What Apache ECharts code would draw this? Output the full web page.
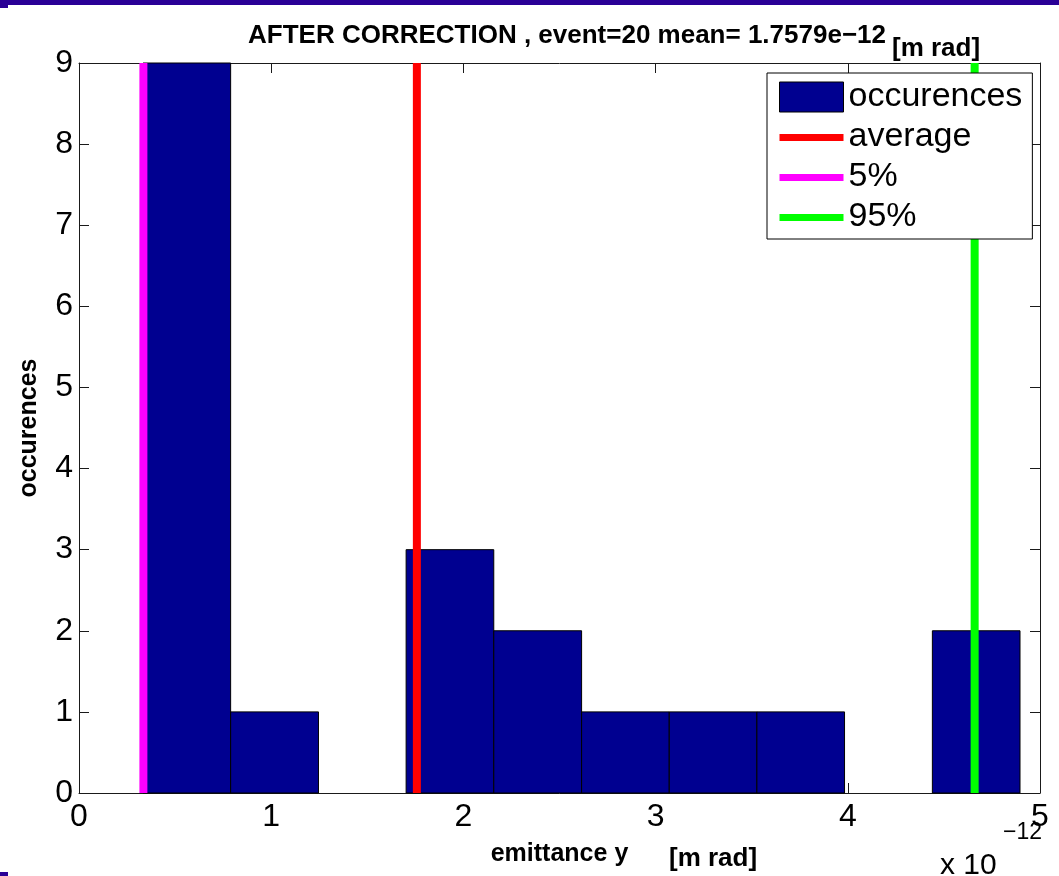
<!DOCTYPE html>
<html>
<head>
<meta charset="utf-8">
<script src="https://cdn.jsdelivr.net/npm/echarts@6/dist/echarts.min.js"></script>
<style>
html,body{margin:0;padding:0;background:#fff;}
#chart{width:1059px;height:876px;}
</style>
</head>
<body>
<div id="chart"></div>
<script>
// ---- data ----
var binEdges = [0.333, 0.789, 1.246, 1.702, 2.158, 2.615, 3.071, 3.527, 3.983, 4.440, 4.896];
var counts = [9, 1, 0, 3, 2, 1, 1, 1, 0, 2];
var meanVal = 1.7579;
var p5Val = 0.335;
var p95Val = 4.66;
var xTicks = [0, 1, 2, 3, 4, 5];
var yTicks = [0, 1, 2, 3, 4, 5, 6, 7, 8, 9];
var titleText = 'AFTER CORRECTION , event=20 mean= 1.7579e\u221212';
var unitText = '[m rad]';
var xName = 'emittance y';
var yName = 'occurences';
var legendNames = ['occurences', 'average', '5%', '95%'];

var FONT = "'Liberation Sans', Arial, Helvetica, sans-serif";
var xMin = xTicks[0], xMax = xTicks[xTicks.length - 1];
var yMin = yTicks[0], yMax = yTicks[yTicks.length - 1];

var barData = [];
for (var i = 0; i < counts.length; i++) {
  barData.push([binEdges[i], binEdges[i + 1], counts[i]]);
}
function vline(v) { return [[v, yMin], [v, yMax]]; }

var lineIcon = 'path://M0,0h0.01v0.01h-0.01z M0,12h64v7h-64z M63.99,29.99h0.01v0.01h-0.01z';

var chart = echarts.init(document.getElementById('chart'), null, {renderer: 'canvas'});
var axisLineStyle = {color: '#1a1a1a', width: 1};
chart.setOption({
  animation: false,
  backgroundColor: '#fff',
  title: [
    {text: titleText, left: 243, top: 18,
     textStyle: {fontFamily: FONT, fontWeight: 'bold', fontSize: 26, color: '#000'}},
    {text: unitText, left: 887, top: 31,
     textStyle: {fontFamily: FONT, fontWeight: 'bold', fontSize: 26, color: '#000'}}
  ],
  grid: {left: 79, top: 63, width: 961, height: 730, containLabel: false},
  legend: {
    z: 20,
    orient: 'vertical', left: 767, top: 73,
    itemWidth: 64, itemHeight: 30, itemGap: 6,
    padding: [7, 10, 5, 12],
    borderColor: '#000', borderWidth: 1, backgroundColor: '#fff',
    textStyle: {fontFamily: FONT, fontSize: 34, color: '#000'},
    data: [
      {name: legendNames[0], icon: 'rect', itemStyle: {borderColor: '#000', borderWidth: 1}},
      {name: legendNames[1], icon: lineIcon, itemStyle: {borderWidth: 0}},
      {name: legendNames[2], icon: lineIcon, itemStyle: {borderWidth: 0}},
      {name: legendNames[3], icon: lineIcon, itemStyle: {borderWidth: 0}}
    ]
  },
  xAxis: [
    {type: 'value', min: xMin, max: xMax, interval: 1, position: 'bottom',
     name: xName, nameLocation: 'middle', nameGap: 49,
     nameTextStyle: {fontFamily: FONT, fontWeight: 'bold', fontSize: 25, color: '#000'},
     axisLine: {show: true, onZero: false, lineStyle: axisLineStyle},
     axisTick: {show: true, inside: true, length: 10, lineStyle: axisLineStyle},
     axisLabel: {fontFamily: FONT, fontSize: 32, color: '#000', margin: 8},
     splitLine: {show: false}},
    {type: 'value', min: xMin, max: xMax, interval: 1, position: 'top',
     axisLine: {show: true, onZero: false, lineStyle: axisLineStyle},
     axisTick: {show: true, inside: true, length: 10, lineStyle: axisLineStyle},
     axisLabel: {show: false}, splitLine: {show: false}}
  ],
  yAxis: [
    {type: 'value', min: yMin, max: yMax, interval: 1, position: 'left',
     name: yName, nameLocation: 'middle', nameGap: 37, nameRotate: 90,
     nameTextStyle: {fontFamily: FONT, fontWeight: 'bold', fontSize: 25, color: '#000'},
     axisLine: {show: true, onZero: false, lineStyle: axisLineStyle},
     axisTick: {show: true, inside: true, length: 10, lineStyle: axisLineStyle},
     axisLabel: {fontFamily: FONT, fontSize: 32, color: '#000', margin: 6},
     splitLine: {show: false}},
    {type: 'value', min: yMin, max: yMax, interval: 1, position: 'right',
     axisLine: {show: true, onZero: false, lineStyle: axisLineStyle},
     axisTick: {show: true, inside: true, length: 10, lineStyle: axisLineStyle},
     axisLabel: {show: false}, splitLine: {show: false}}
  ],
  series: [
    {name: legendNames[0], type: 'custom', xAxisIndex: 0, yAxisIndex: 0, z: 2,
     itemStyle: {color: '#000090'},
     encode: {x: [0, 1], y: 2},
     data: barData,
     renderItem: function (params, api) {
       var c = api.value(2);
       if (!c) return null;
       var p0 = api.coord([api.value(0), 0]);
       var p1 = api.coord([api.value(1), c]);
       return {type: 'rect',
         shape: {x: p0[0], y: p1[1], width: p1[0] - p0[0], height: p0[1] - p1[1]},
         style: {fill: '#000090', stroke: '#000', lineWidth: 1}};
     }},
    {name: legendNames[1], type: 'line', symbol: 'none', z: 3, color: '#ff0000',
     lineStyle: {color: '#ff0000', width: 8}, data: vline(meanVal)},
    {name: legendNames[2], type: 'line', symbol: 'none', z: 3, color: '#ff00ff',
     lineStyle: {color: '#ff00ff', width: 8}, data: vline(p5Val)},
    {name: legendNames[3], type: 'line', symbol: 'none', z: 3, color: '#00ff00',
     lineStyle: {color: '#00ff00', width: 8}, data: vline(p95Val)}
  ],
  graphic: [
    {type: 'rect', left: 0, top: 0, shape: {width: 1059, height: 5}, style: {fill: '#2a0096'}},
    {type: 'rect', left: 0, top: 5, shape: {width: 8, height: 3}, style: {fill: '#2a0096'}},
    {type: 'rect', left: 0, top: 872, shape: {width: 8, height: 4}, style: {fill: '#2a0096'}},
    {type: 'text', left: 669, top: 846, style: {text: unitText, fontFamily: FONT, fontWeight: 'bold', fontSize: 26, fill: '#000'}},
    {type: 'text', left: 940, top: 851, style: {text: 'x 10', fontFamily: FONT, fontSize: 30, fill: '#000'}},
    {type: 'text', left: 1003, top: 821, style: {text: '\u221212', fontFamily: FONT, fontSize: 23, fill: '#000'}}
  ]
});
</script>
</body>
</html>
